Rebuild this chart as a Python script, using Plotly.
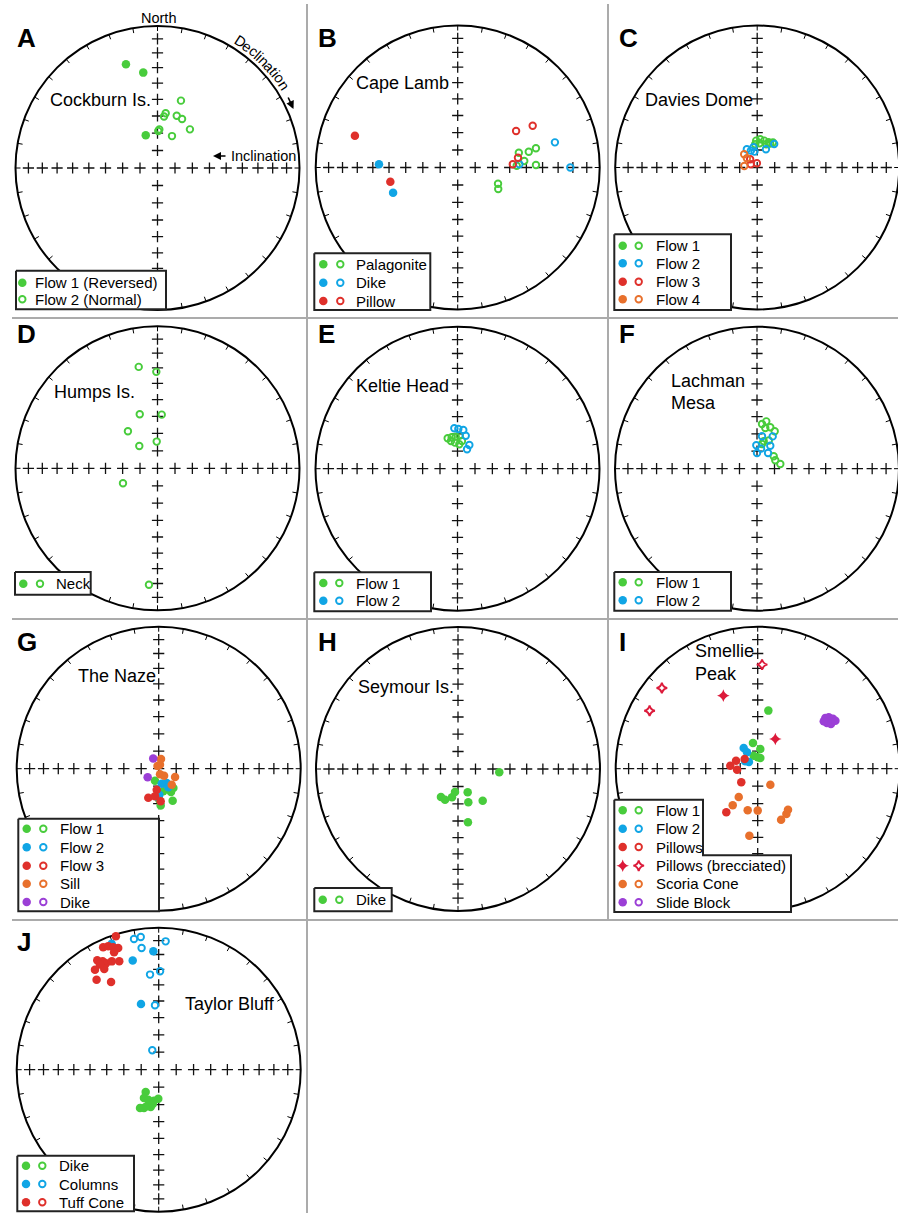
import numpy as np
import plotly.graph_objects as go

W, H = 898, 1213
R = 142.0  # stereonet radius in px

FONT = "Liberation Sans, Arial, sans-serif"
GREEN = "#48cc3c"
BLUE = "#10a5e5"
RED = "#df302b"
ORANGE = "#e8702c"
PURPLE = "#9b3fd6"
CRIMSON = "#dc1a3a"

# ---- Palaeomagnetic directions: declination (deg), inclination (deg, negative = upward) ----
cockburn_f1_dec = [343.1, 351.5, 340.3]
cockburn_f1_inc = [24.6, 32.6, 70.0]
cockburn_f2_dec = [19.2, 8.5, 7.2, 20.2, 26.6, 40.0, 2.7, 1.2, 24.4]
cockburn_f2_inc = [-48.4, -58.0, -60.0, -57.8, -58.3, -60.9, -67.8, -68.8, -69.9]

lamb_palag_dec = [76.4, 77.5, 76.2, 84.4, 88.3, 88.2, 111.9, 117.9]
lamb_palag_inc = [-53.5, -47.5, -42.7, -51.1, -55.8, -44.1, -65.0, -63.6]
lamb_dike_dec = [272.3, 248.7, 87.0, 75.5, 90.0]
lamb_dike_inc = [43.8, 49.6, -54.2, -30.0, -21.8]
lamb_pillow_dec = [287.2, 258.1, 58.0, 60.9, 80.8, 86.7]
lamb_pillow_inc = [25.2, 49.9, -49.9, -39.4, -54.6, -58.1]

davies_f1_dec = [357.9, 6.1, 14.6, 24.2, 32.3, 355.1, 5.4, 21.2, 28.4]
davies_f1_inc = [-74.6, -73.7, -74.1, -74.2, -73.1, -76.6, -76.1, -75.7, -74.4]
davies_f2_dec = [330.5, 339.4, 350.3, 349.6, 25.5, 35.9]
davies_f2_inc = [-78.0, -79.7, -80.8, -78.2, -78.4, -73.4]
davies_f3_dec = [319.5, 296.9, 355.9]
davies_f3_inc = [-83.8, -85.9, -87.6]
davies_f4_dec = [315.4, 311.8, 276.7]
davies_f4_inc = [-79.4, -82.1, -82.6]

humps_neck_dec = [349.5, 359.3, 341.8, 4.5, 321.4, 320.8, 358.3, 246.5, 184.2]
humps_neck_inc = [-28.2, -32.6, -57.1, -58.9, -62.7, -73.5, -74.7, -68.4, -18.9]

keltie_f1_dec = [342.1, 349.5, 356.8, 3.8, 346.8, 354.5, 4.2, 9.2]
keltie_f1_inc = [-71.7, -71.7, -71.6, -71.0, -73.7, -75.0, -76.0, -73.9]
keltie_f2_dec = [355.5, 1.2, 8.5, 14.0, 26.5, 26.1]
keltie_f2_inc = [-66.7, -67.2, -67.5, -70.5, -74.8, -77.6]

lachman_f1_dec = [6.4, 11.1, 11.5, 17.8, 25.3, 13.7, 22.7, 11.4, 53.4, 65.3, 78.6]
lachman_f1_inc = [-64.1, -62.2, -66.1, -65.0, -66.2, -73.8, -72.5, -75.6, -78.1, -78.5, -76.4]
lachman_f2_dec = [8.8, 25.9, 358.3, 30.0, 11.3, 0.0, 35.0]
lachman_f2_inc = [-71.2, -69.4, -76.6, -74.8, -78.3, -81.0, -79.0]

naze_f1_dec = [197.1, 168.5, 152.2, 142.9, 156.4, 176.9, 178.9]
naze_f1_inc = [82.8, 76.8, 74.9, 76.1, 70.0, 68.9, 72.2]
naze_f2_dec = [168.7, 150.8, 152.7, 178.7, 184.1]
naze_f2_inc = [81.2, 80.6, 78.0, 75.1, 74.1]
naze_f3_dec = [185.4, 199.7, 187.6, 176.5]
naze_f3_inc = [77.9, 72.3, 74.1, 71.3]
naze_sill_dec = [13.3, 18.0, 336.0, 166.2, 142.9, 117.0, 140.9]
naze_sill_inc = [84.3, 87.6, 88.3, 86.8, 84.9, 79.5, 78.2]
naze_dike_dec = [331.6, 232.0]
naze_dike_inc = [83.4, 82.0]

seymour_dike_dec = [94.6, 211.3, 202.9, 192.0, 187.4, 157.4, 162.8, 142.1, 169.4]
seymour_dike_inc = [66.2, 71.2, 70.9, 73.5, 76.7, 75.6, 70.0, 66.9, 58.7]

smellie_f1_dec = [10.4, 349.6, 7.5, 342.9, 0.0, 13.7]
smellie_f1_inc = [55.8, 75.0, 78.6, 82.2, 83.4, 83.7]
smellie_f2_dec = [325.9, 326.9, 300.8, 307.6]
smellie_f2_inc = [75.7, 78.8, 81.7, 83.7]
smellie_pillow_dec = [306.7, 290.2, 276.2, 267.2, 230.3, 215.8]
smellie_pillow_inc = [80.7, 76.8, 74.2, 78.2, 77.8, 59.0]
smellie_brec_dec = [334.8, 30.7, 2.4, 310.1, 298.2]
smellie_brec_inc = [42.6, 70.2, -27.5, -12.8, -14.7]
smellie_scoria_dec = [141.8, 213.9, 214.3, 193.5, 180.0, 143.5, 147.7, 155.4, 187.1]
smellie_scoria_inc = [78.3, 70.5, 64.5, 65.4, 65.9, 60.6, 59.0, 57.5, 50.7]
smellie_slide_dec = [53.1, 54.1, 56.4, 56.6, 58.6, 58.3, 54.3]
smellie_slide_inc = [40.2, 38.2, 36.5, 41.2, 39.4, 35.9, 42.2]

taylor_dike_dec = [210.2, 207.5, 199.1, 188.6, 180.8, 206.0, 201.0, 192.1, 198.2, 189.9]
taylor_dike_inc = [75.2, 71.7, 71.8, 72.0, 73.4, 65.5, 66.4, 68.1, 67.9, 70.1]
taylor_col_dec = [339.5, 346.6, 357.4, 344.9, 349.3, 352.3, 3.1, 352.0, 0.8, 354.8, 356.7, 341.7]
taylor_col_inc = [6.0, 22.1, 17.6, 50.4, -7.0, -6.3, -10.4, -14.5, -31.3, -33.2, -52.5, -78.3]
taylor_tuff_dec = [342.2, 335.6, 337.8, 339.6, 341.6, 339.2, 330.7, 332.7, 333.7, 336.6,
                   340.0, 327.5, 331.6, 325.4, 331.5, 330.8]
taylor_tuff_inc = [1.5, 5.9, 6.7, 8.9, 10.6, 12.5, 12.6, 15.1, 17.5, 18.0,
                   19.9, 17.6, 20.5, 24.0, 30.4, 16.3]

# ---- panel layout (pixel geometry of each stereonet cell) ----
COLS = [(0, 307), (307, 608), (608, 898)]
ROWS = [(0, 318), (318, 619), (619, 920), (920, 1213)]

panels = [
    dict(letter="A", cell=(0, 0), c=(157.5, 168.0), letter_y=37.5,
         names=[("Cockburn Is.", 47.7, 100)],
         units=[("Flow 1 (Reversed)", GREEN, "circle", cockburn_f1_dec, cockburn_f1_inc),
                ("Flow 2 (Normal)", GREEN, "circle", cockburn_f2_dec, cockburn_f2_inc)],
         leg=dict(box=[(16, 270.7), (166, 270.7), (166, 309.3), (16, 309.3)],
                  rows=[282.7, 299.3], fx=22.3, ox=None, tx=32.7, kinds=["f", "o"])),
    dict(letter="B", cell=(1, 0), c=(457.7, 167.5), letter_y=37.5,
         names=[("Cape Lamb", 354.3, 83.3)],
         units=[("Palagonite", GREEN, "circle", lamb_palag_dec, lamb_palag_inc),
                ("Dike", BLUE, "circle", lamb_dike_dec, lamb_dike_inc),
                ("Pillow", RED, "circle", lamb_pillow_dec, lamb_pillow_inc)],
         leg=dict(box=[(314.3, 253.3), (430.3, 253.3), (430.3, 310), (314.3, 310)],
                  rows=[264.3, 282.7, 301.0], fx=323.3, ox=340.3, tx=354.3)),
    dict(letter="C", cell=(2, 0), c=(757.2, 167.5), letter_y=37.5,
         names=[("Davies Dome", 643, 100)],
         units=[("Flow 1", GREEN, "circle", davies_f1_dec, davies_f1_inc),
                ("Flow 2", BLUE, "circle", davies_f2_dec, davies_f2_inc),
                ("Flow 3", RED, "circle", davies_f3_dec, davies_f3_inc),
                ("Flow 4", ORANGE, "circle", davies_f4_dec, davies_f4_inc)],
         leg=dict(box=[(614.3, 234.3), (731, 234.3), (731, 310), (614.3, 310)],
                  rows=[245.7, 263.3, 281.7, 299.3], fx=622.7, ox=638.7, tx=654.3)),
    dict(letter="D", cell=(0, 1), c=(157.5, 468.3), letter_y=334,
         names=[("Humps Is.", 51.7, 392)],
         units=[("Neck", GREEN, "circle", humps_neck_dec, humps_neck_inc)],
         leg=dict(box=[(15, 572), (90.7, 572), (90.7, 594.7), (15, 594.7)],
                  rows=[583.7], fx=23.3, ox=40.0, tx=54.3)),
    dict(letter="E", cell=(1, 1), c=(457.5, 468.7), letter_y=334,
         names=[("Keltie Head", 354.3, 386.3)],
         units=[("Flow 1", GREEN, "circle", keltie_f1_dec, keltie_f1_inc),
                ("Flow 2", BLUE, "circle", keltie_f2_dec, keltie_f2_inc)],
         leg=dict(box=[(314.3, 572.3), (431, 572.3), (431, 611.3), (314.3, 611.3)],
                  rows=[583.0, 600.7], fx=323.3, ox=339.3, tx=354.3)),
    dict(letter="F", cell=(2, 1), c=(757.0, 468.7), letter_y=334,
         names=[("Lachman", 668.7, 381.3), ("Mesa", 668.7, 403)],
         units=[("Flow 1", GREEN, "circle", lachman_f1_dec, lachman_f1_inc),
                ("Flow 2", BLUE, "circle", lachman_f2_dec, lachman_f2_inc)],
         leg=dict(box=[(614.3, 572), (731, 572), (731, 610.7), (614.3, 610.7)],
                  rows=[582.3, 600.3], fx=622.7, ox=638.7, tx=653.7)),
    dict(letter="G", cell=(0, 2), c=(158.7, 768.7), letter_y=642,
         names=[("The Naze", 76, 676.3)],
         units=[("Flow 1", GREEN, "circle", naze_f1_dec, naze_f1_inc),
                ("Flow 2", BLUE, "circle", naze_f2_dec, naze_f2_inc),
                ("Flow 3", RED, "circle", naze_f3_dec, naze_f3_inc),
                ("Sill", ORANGE, "circle", naze_sill_dec, naze_sill_inc),
                ("Dike", PURPLE, "circle", naze_dike_dec, naze_dike_inc)],
         leg=dict(box=[(18.3, 818.7), (159, 818.7), (159, 911.3), (18.3, 911.3)],
                  rows=[828.7, 847.3, 865.7, 883.7, 902.0], fx=26.7, ox=43.3, tx=58.3)),
    dict(letter="H", cell=(1, 2), c=(458.0, 769.0), letter_y=642,
         names=[("Seymour Is.", 356, 687)],
         units=[("Dike", GREEN, "circle", seymour_dike_dec, seymour_dike_inc)],
         leg=dict(box=[(314.3, 888), (391.7, 888), (391.7, 911.3), (314.3, 911.3)],
                  rows=[899.7], fx=322.7, ox=339.3, tx=354.3)),
    dict(letter="I", cell=(2, 2), c=(757.7, 768.7), letter_y=642,
         names=[("Smellie", 693, 651.3), ("Peak", 693, 673.7)],
         units=[("Flow 1", GREEN, "circle", smellie_f1_dec, smellie_f1_inc),
                ("Flow 2", BLUE, "circle", smellie_f2_dec, smellie_f2_inc),
                ("Pillows", RED, "circle", smellie_pillow_dec, smellie_pillow_inc),
                ("Pillows (brecciated)", CRIMSON, "star-diamond", smellie_brec_dec, smellie_brec_inc),
                ("Scoria Cone", ORANGE, "circle", smellie_scoria_dec, smellie_scoria_inc),
                ("Slide Block", PURPLE, "circle", smellie_slide_dec, smellie_slide_inc)],
         leg=dict(box=[(614.3, 799.7), (703, 799.7), (703, 855.3), (791, 855.3),
                       (791, 912), (614.3, 912)],
                  rows=[810.3, 828.7, 847.0, 865.7, 884.0, 902.3], fx=622.7, ox=638.7, tx=653.7)),
    dict(letter="J", cell=(0, 3), c=(158.7, 1069.7), letter_y=942,
         names=[("Taylor Bluff", 183.3, 1004)],
         units=[("Dike", GREEN, "circle", taylor_dike_dec, taylor_dike_inc),
                ("Columns", BLUE, "circle", taylor_col_dec, taylor_col_inc),
                ("Tuff Cone", RED, "circle", taylor_tuff_dec, taylor_tuff_inc)],
         leg=dict(box=[(17.3, 1155.7), (134, 1155.7), (134, 1211.3), (17.3, 1211.3)],
                  rows=[1165.7, 1184.0, 1202.3], fx=26.0, ox=42.3, tx=57.3)),
]


def eq_area(dec, inc):
    """Lambert equal-area projection of (dec, inc) onto the unit stereonet."""
    d = np.radians(np.asarray(dec, float))
    i = np.asarray(inc, float)
    r = np.sqrt(2.0) * np.sin(np.radians(90.0 - np.abs(i)) / 2.0)
    return r * np.sin(d), r * np.cos(d)


def px(x, y):
    return x / W, 1 - y / H


def marker_style(color, symbol, filled):
    if filled:
        size = 9 if symbol == "star-diamond" else 8.5
        return dict(symbol=symbol, size=size, color=color, line=dict(width=0))
    size = 7.5 if symbol == "star-diamond" else 6.5
    return dict(symbol=symbol + "-open", size=size, color=color, line=dict(width=1.9, color=color))


fig = go.Figure()
layout = dict(width=W, height=H, margin=dict(l=0, r=0, t=0, b=0),
              paper_bgcolor="white", plot_bgcolor="rgba(0,0,0,0)", showlegend=False)
shapes, annotations = [], []

# tick positions along the axes: inclination 10..80 deg plus the centre
tick_inc = np.arange(10, 90, 10)
cross_dec = np.concatenate([np.full(8, d) for d in (0, 90, 180, 270)] + [[0]])
cross_inc = np.concatenate([tick_inc] * 4 + [[90]])
cx_all, cy_all = eq_area(cross_dec, cross_inc)

# declination ticks on the primitive circle every 10 deg
dticks = np.radians(np.arange(0, 360, 10))
tick_len = 5.0 / R
tx_list, ty_list = [], []
for a in dticks:
    tx_list += [np.sin(a), (1 - tick_len) * np.sin(a), None]
    ty_list += [np.cos(a), (1 - tick_len) * np.cos(a), None]

for k, p in enumerate(panels, start=1):
    sfx = "" if k == 1 else str(k)
    xa, ya = "x" + sfx, "y" + sfx
    (x0, x1), (y0, y1) = COLS[p["cell"][0]], ROWS[p["cell"][1]]
    cxp, cyp = p["c"]

    layout["xaxis" + sfx] = dict(domain=[x0 / W, x1 / W], range=[(x0 - cxp) / R, (x1 - cxp) / R],
                                 visible=False, fixedrange=True, anchor=ya)
    layout["yaxis" + sfx] = dict(domain=[1 - y1 / H, 1 - y0 / H], range=[(cyp - y1) / R, (cyp - y0) / R],
                                 visible=False, fixedrange=True, anchor=xa)

    def to_ax(x, y):
        return (x - cxp) / R, (cyp - y) / R

    shapes.append(dict(type="circle", xref=xa, yref=ya, x0=-1, y0=-1, x1=1, y1=1,
                       line=dict(color="black", width=2), layer="below"))

    fig.add_trace(go.Scatter(x=tx_list, y=ty_list, xaxis=xa, yaxis=ya, mode="lines",
                             line=dict(color="black", width=1), hoverinfo="skip"))
    fig.add_trace(go.Scatter(x=cx_all, y=cy_all, xaxis=xa, yaxis=ya, mode="markers",
                             marker=dict(symbol="cross-thin", size=8, color="#111",
                                         line=dict(width=1.3, color="#111")),
                             hoverinfo="skip"))

    # data points: solid = lower hemisphere, open = upper hemisphere
    for name, color, sym, dec, inc in p["units"]:
        inc_a = np.asarray(inc, float)
        x, y = eq_area(dec, inc_a)
        for filled in (True, False):
            m = inc_a >= 0 if filled else inc_a < 0
            if m.any():
                fig.add_trace(go.Scatter(x=x[m], y=y[m], xaxis=xa, yaxis=ya, mode="markers",
                                         marker=marker_style(color, sym, filled),
                                         name=name, hoverinfo="skip"))

    # legend box
    lg = p["leg"]
    bx = [to_ax(*pt) for pt in lg["box"]] + [to_ax(*lg["box"][0])]
    fig.add_trace(go.Scatter(x=[b[0] for b in bx], y=[b[1] for b in bx], xaxis=xa, yaxis=ya,
                             mode="lines", fill="toself", fillcolor="white",
                             line=dict(color="#222", width=2), hoverinfo="skip"))
    kinds = lg.get("kinds")
    for j, (name, color, sym, dec, inc) in enumerate(p["units"]):
        ry = lg["rows"][j]
        if kinds is None:
            marks = [(lg["fx"], True), (lg["ox"], False)]
        else:
            marks = [(lg["fx"], kinds[j] == "f")]
        for mx, filled in marks:
            ax_x, ax_y = to_ax(mx, ry)
            fig.add_trace(go.Scatter(x=[ax_x], y=[ax_y], xaxis=xa, yaxis=ya, mode="markers",
                                     marker=marker_style(color, sym, filled), hoverinfo="skip"))
        tx, ty = px(lg["tx"], ry)
        annotations.append(dict(x=tx, y=ty, xref="paper", yref="paper", text=name,
                                showarrow=False, xanchor="left", yanchor="middle",
                                font=dict(family=FONT, size=15, color="black")))

    # panel letter and site name
    lx = x0 + (15 if x0 == 0 else 9)
    lxp, lyp = px(lx, p["letter_y"])
    annotations.append(dict(x=lxp, y=lyp, xref="paper", yref="paper", text="<b>%s</b>" % p["letter"],
                            showarrow=False, xanchor="left", yanchor="middle",
                            font=dict(family=FONT, size=26, color="black")))
    for txt, nx, ny in p["names"]:
        nxp, nyp = px(nx, ny)
        annotations.append(dict(x=nxp, y=nyp, xref="paper", yref="paper", text=txt,
                                showarrow=False, xanchor="left", yanchor="middle",
                                font=dict(family=FONT, size=18, color="black")))

# ---- orientation labels on the first stereonet ----
acx, acy = panels[0]["c"]
nxp, nyp = px(158, 18.3)
annotations.append(dict(x=nxp, y=nyp, xref="paper", yref="paper", text="North", showarrow=False,
                        xanchor="center", yanchor="middle",
                        font=dict(family=FONT, size=14.5, color="black")))

# "Declination" set letter by letter along the outside of the circle
char_w = {"D": .722, "e": .556, "c": .5, "l": .222, "i": .222, "n": .556, "a": .556, "t": .278, "o": .556}
fs = 14.5
arc_r = 151.0
start = np.radians(31.0)
cum = 0.0
for ch in "Declination":
    w = char_w[ch] * fs
    ang = start + (cum + w / 2) / arc_r
    cum += w
    lx, ly = px(acx + arc_r * np.sin(ang), acy - arc_r * np.cos(ang))
    annotations.append(dict(x=lx, y=ly, xref="paper", yref="paper", text=ch, showarrow=False,
                            xanchor="center", yanchor="middle", textangle=float(np.degrees(ang)),
                            font=dict(family=FONT, size=fs, color="black")))
hx, hy = px(293.5, 109)
annotations.append(dict(x=hx, y=hy, xref="paper", yref="paper", text="", showarrow=True,
                        ax=-6, ay=-13, arrowhead=2, arrowsize=1, arrowwidth=1.6, arrowcolor="black"))

hx, hy = px(213, 156)
annotations.append(dict(x=hx, y=hy, xref="paper", yref="paper", text="", showarrow=True,
                        ax=14, ay=0, arrowhead=2, arrowsize=1, arrowwidth=1.6, arrowcolor="black"))
ix, iy = px(229, 156)
annotations.append(dict(x=ix, y=iy, xref="paper", yref="paper", text="Inclination", showarrow=False,
                        xanchor="left", yanchor="middle",
                        font=dict(family=FONT, size=14.5, color="black")))

# ---- grey separators between panels ----
SEP = dict(color="#ababab", width=2)
for (xa0, ya0, xa1, ya1) in [(307, 4, 307, 1213), (608, 4, 608, 920),
                             (12, 318, 898, 318), (12, 619, 898, 619), (12, 920, 898, 920)]:
    p0 = px(xa0, ya0)
    p1 = px(xa1, ya1)
    shapes.append(dict(type="line", xref="paper", yref="paper", x0=p0[0], y0=p0[1],
                       x1=p1[0], y1=p1[1], line=SEP, layer="above"))

layout["shapes"] = shapes
layout["annotations"] = annotations
fig.update_layout(**layout)
fig.write_html("out.html")
